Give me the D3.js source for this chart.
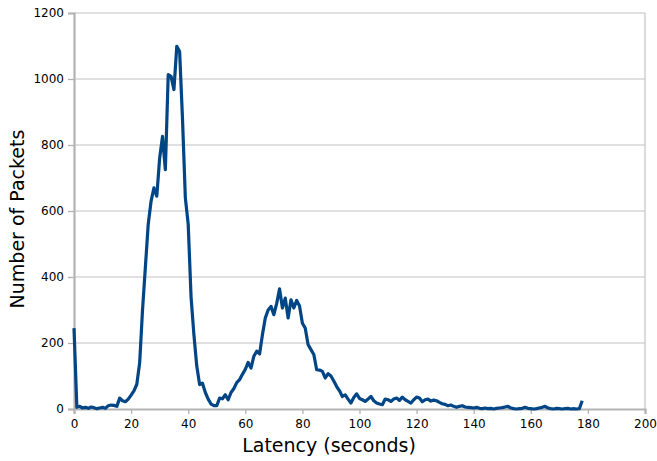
<!DOCTYPE html>
<html>
<head>
<meta charset="utf-8">
<script src="https://cdn.jsdelivr.net/npm/d3@7"></script>
<style>
  html, body { margin: 0; padding: 0; background: #ffffff; }
  svg { display: block; }
  text { font-family: "DejaVu Sans", sans-serif; fill: #000; }
</style>
</head>
<body>
<script>
// Latency (seconds) for each sample
const latency = d3.range(0, 179);
// Number of packets per 1-second latency bin
const packets = [
  245, 5, 8, 3, 5, 2, 6, 4, 1, 3,
  5, 2, 10, 12, 11, 8, 33, 25, 22, 30,
  42, 55, 75, 140, 300, 430, 560, 630, 670, 645,
  760, 826, 725, 1013, 1008, 968, 1099, 1083, 880, 640,
  560, 340, 225, 130, 74, 78, 50, 30, 15, 10,
  10, 33, 31, 43, 28, 50, 62, 80, 89, 105,
  120, 141, 124, 160, 175, 167, 225, 276, 300, 311,
  286, 320, 364, 306, 336, 276, 331, 306, 329, 312,
  260, 245, 195, 180, 165, 119, 118, 114, 94, 107,
  100, 85, 68, 55, 38, 43, 30, 18, 35, 46,
  32, 28, 23, 30, 38, 25, 18, 15, 13, 30,
  28, 23, 30, 33, 26, 36, 28, 23, 18, 28,
  36, 33, 22, 28, 30, 24, 27, 25, 20, 16,
  14, 10, 12, 8, 5, 8, 10, 6, 5, 4,
  3, 5, 2, 1, 3, 1, 2, 0, 2, 3,
  4, 6, 8, 3, 1, 0, 1, 2, 5, 2,
  1, 0, 1, 3, 5, 8, 3, 1, 0, 2,
  1, 0, 1, 2, 0, 1, 0, 1, 25
];
const xTicks = [0, 20, 40, 60, 80, 100, 120, 140, 160, 180, 200];
const yTicks = [0, 200, 400, 600, 800, 1000, 1200];
const xTitle = "Latency (seconds)";
const yTitle = "Number of Packets";

const W = 657, H = 461;
const m = { left: 74, right: 12, top: 13, bottom: 52 };

const svg = d3.select("body").append("svg").attr("width", W).attr("height", H);

const x = d3.scaleLinear().domain([0, 200]).range([m.left, W - m.right]);
const y = d3.scaleLinear().domain([0, 1200]).range([H - m.bottom, m.top]);

// gridlines
svg.append("g")
  .selectAll("line")
  .data(yTicks.filter(d => d > 0))
  .join("line")
  .attr("x1", x(0)).attr("x2", x(200))
  .attr("y1", d => y(d)).attr("y2", d => y(d))
  .attr("stroke", "#d6d6d6").attr("stroke-width", 1.3);

// right border
svg.append("line")
  .attr("x1", x(200)).attr("x2", x(200))
  .attr("y1", y(1200)).attr("y2", y(0))
  .attr("stroke", "#c8c8c8").attr("stroke-width", 1.3);

// y axis
const yAxis = d3.axisLeft(y).tickValues(yTicks).tickSize(6).tickPadding(4).tickFormat(d3.format("d"));
const gy = svg.append("g").attr("transform", `translate(${x(0)},0)`).call(yAxis);
gy.select(".domain").attr("stroke", "#b3b3b3").attr("stroke-width", 2.2);
gy.selectAll(".tick line").attr("stroke", "#b3b3b3").attr("stroke-width", 1.3);
gy.selectAll(".tick text").attr("font-size", 12).attr("font-family", "DejaVu Sans").attr("fill", "#111");

// x axis
const xAxis = d3.axisBottom(x).tickValues(xTicks).tickSize(5).tickPadding(5).tickFormat(d3.format("d"));
const gx = svg.append("g").attr("transform", `translate(0,${y(0)})`).call(xAxis);
gx.select(".domain").attr("stroke", "#b3b3b3").attr("stroke-width", 2.2);
gx.selectAll(".tick line").attr("stroke", "#b3b3b3").attr("stroke-width", 1.3);
gx.selectAll(".tick text").attr("font-size", 12).attr("font-family", "DejaVu Sans").attr("fill", "#111");

// line
const line = d3.line().x((d, i) => x(latency[i])).y(d => y(d));
svg.append("path")
  .datum(packets)
  .attr("d", line)
  .attr("fill", "none")
  .attr("stroke", "#004586")
  .attr("stroke-width", 3.2)
  .attr("stroke-linejoin", "round");

// titles
svg.append("text")
  .attr("x", 329).attr("y", 452)
  .attr("text-anchor", "middle")
  .attr("font-size", 19)
  .text(xTitle);

svg.append("text")
  .attr("transform", `translate(24,219) rotate(-90)`)
  .attr("text-anchor", "middle")
  .attr("font-size", 19)
  .text(yTitle);
</script>
</body>
</html>
